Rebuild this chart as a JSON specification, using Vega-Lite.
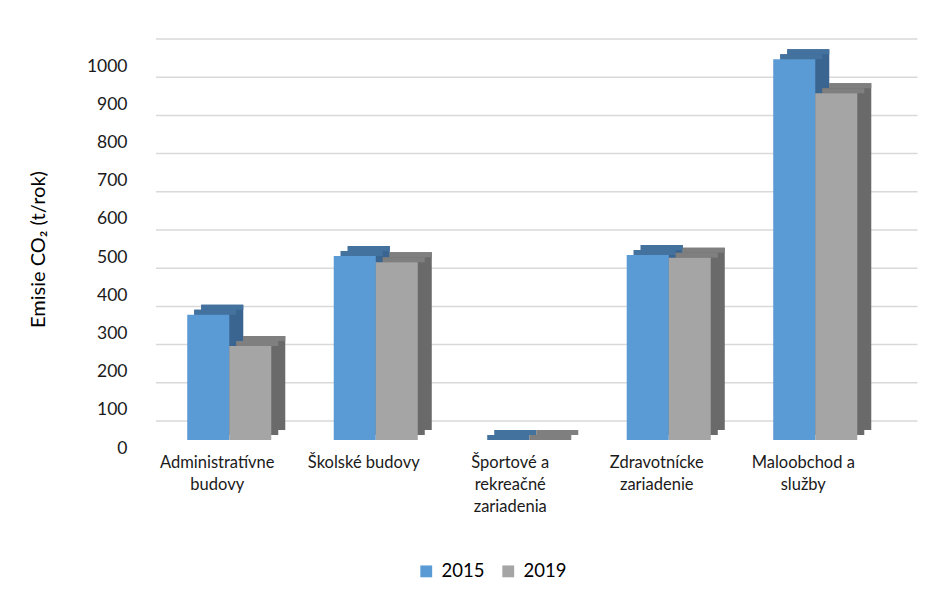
{
  "$schema": "https://vega.github.io/schema/vega-lite/v6.json",
  "width": 732.5,
  "height": 382,
  "autosize": {"type": "none"},
  "padding": {"left": 156, "top": 58, "right": 53.5, "bottom": 151},
  "background": "white",
  "config": {
    "view": {"stroke": null},
    "font": "Lato",
    "axisY": {
      "titleFont": "Lato", "titleFontSize": 20, "titleFontWeight": "normal", "titleColor": "#000000",
      "titlePadding": 38,
      "grid": false, "ticks": false, "domain": false, "format": "d",
      "labelFont": "Lato", "labelFontSize": 17.5, "labelColor": "#1a1a1a",
      "labelPadding": 29, "labelOffset": 8
    },
    "legend": {
      "orient": "none", "direction": "horizontal",
      "legendX": 261, "legendY": 504,
      "symbolType": "square", "symbolSize": 140, "symbolStrokeWidth": 0,
      "labelFont": "Lato", "labelFontSize": 18.5, "labelColor": "#000000",
      "columnPadding": 14, "labelOffset": 6
    }
  },
  "datasets": {
    "bars": [
      {"cat": "Administratívne budovy", "year": "2015", "value": 328},
      {"cat": "Administratívne budovy", "year": "2019", "value": 246},
      {"cat": "Školské budovy", "year": "2015", "value": 482},
      {"cat": "Školské budovy", "year": "2019", "value": 465},
      {"cat": "Športové a rekreačné zariadenia", "year": "2015", "value": 0},
      {"cat": "Športové a rekreačné zariadenia", "year": "2019", "value": 0},
      {"cat": "Zdravotnícke zariadenie", "year": "2015", "value": 484},
      {"cat": "Zdravotnícke zariadenie", "year": "2019", "value": 477},
      {"cat": "Maloobchod a služby", "year": "2015", "value": 997},
      {"cat": "Maloobchod a služby", "year": "2019", "value": 908}
    ],
    "grid": [
      {"value": 0}, {"value": 100}, {"value": 200}, {"value": 300}, {"value": 400},
      {"value": 500}, {"value": 600}, {"value": 700}, {"value": 800}, {"value": 900}, {"value": 1000}
    ]
  },
  "layer": [
    {
      "data": {"name": "grid"},
      "mark": {"type": "rule", "color": "#D9D9D9", "strokeWidth": 1.5, "xOffset": 29, "yOffset": -19},
      "encoding": {
        "y": {
          "field": "value", "type": "quantitative",
          "scale": {"domain": [0, 1000], "nice": false, "zero": true},
          "axis": {"title": "Emisie CO₂ (t/rok)", "values": [0, 100, 200, 300, 400, 500, 600, 700, 800, 900, 1000]}
        }
      }
    },
    {
      "data": {"name": "bars"},
      "encoding": {
        "x": {
          "field": "cat", "type": "nominal", "sort": null,
          "scale": {"paddingInner": 0, "paddingOuter": 0},
          "axis": {
            "title": null, "ticks": false, "domain": false, "labelAngle": 0,
            "labelFont": "Lato", "labelFontSize": 16.5, "labelColor": "#1a1a1a",
            "labelPadding": 14, "labelOffset": -12, "labelLineHeight": 22,
            "labelBaseline": "top", "labelOverlap": false, "labelBound": false, "labelLimit": 300,
            "labelExpr": "datum.value == 'Administratívne budovy' ? ['Administratívne', 'budovy'] : datum.value == 'Športové a rekreačné zariadenia' ? ['Športové a', 'rekreačné', 'zariadenia'] : datum.value == 'Zdravotnícke zariadenie' ? ['Zdravotnícke', 'zariadenie'] : datum.value == 'Maloobchod a služby' ? ['Maloobchod a', 'služby'] : datum.value"
          }
        },
        "y": {
          "field": "value", "type": "quantitative",
          "scale": {"domain": [0, 1000], "nice": false, "zero": true},
          "axis": {"title": "Emisie CO₂ (t/rok)", "values": [0, 100, 200, 300, 400, 500, 600, 700, 800, 900, 1000]}
        }
      },
      "layer": [
        {
          "transform": [{"filter": "datum.year == '2015'"}],
          "mark": {"type": "bar", "color": "#3A6591", "width": {"band": 0.287}, "xOffset": -14, "yOffset": -5, "y2Offset": -5},
          "encoding": {"y2": {"datum": 0}}
        },
        {
          "transform": [{"filter": "datum.year == '2015'"}],
          "mark": {"type": "bar", "color": "#3A6591", "width": {"band": 0.287}, "xOffset": -7, "yOffset": -10, "y2Offset": -10},
          "encoding": {"y2": {"datum": 0}}
        },
        {
          "transform": [{"filter": "datum.year == '2015'"}],
          "mark": {"type": "bar", "color": "#44729F", "width": {"band": 0.287}, "xOffset": -14, "yOffset": -5, "y2Offset": 0},
          "encoding": {"y2": {"field": "value"}}
        },
        {
          "transform": [{"filter": "datum.year == '2015'"}],
          "mark": {"type": "bar", "color": "#44729F", "width": {"band": 0.287}, "xOffset": -7, "yOffset": -10, "y2Offset": -5},
          "encoding": {"y2": {"field": "value"}}
        },
        {
          "transform": [{"filter": "datum.year == '2015'"}],
          "mark": {"type": "bar", "width": {"band": 0.287}, "xOffset": -21},
          "encoding": {
            "y2": {"datum": 0},
            "color": {"field": "year", "type": "nominal", "scale": {"domain": ["2015", "2019"], "range": ["#5B9BD5", "#A5A5A5"]}, "legend": {"title": null}}
          }
        },
        {
          "transform": [{"filter": "datum.year == '2019'"}],
          "mark": {"type": "bar", "color": "#6A6A6A", "width": {"band": 0.287}, "xOffset": 28, "yOffset": -5, "y2Offset": -5},
          "encoding": {"y2": {"datum": 0}}
        },
        {
          "transform": [{"filter": "datum.year == '2019'"}],
          "mark": {"type": "bar", "color": "#6A6A6A", "width": {"band": 0.287}, "xOffset": 35, "yOffset": -10, "y2Offset": -10},
          "encoding": {"y2": {"datum": 0}}
        },
        {
          "transform": [{"filter": "datum.year == '2019'"}],
          "mark": {"type": "bar", "color": "#7F7F7F", "width": {"band": 0.287}, "xOffset": 28, "yOffset": -5, "y2Offset": 0},
          "encoding": {"y2": {"field": "value"}}
        },
        {
          "transform": [{"filter": "datum.year == '2019'"}],
          "mark": {"type": "bar", "color": "#7F7F7F", "width": {"band": 0.287}, "xOffset": 35, "yOffset": -10, "y2Offset": -5},
          "encoding": {"y2": {"field": "value"}}
        },
        {
          "transform": [{"filter": "datum.year == '2019'"}],
          "mark": {"type": "bar", "width": {"band": 0.287}, "xOffset": 21},
          "encoding": {
            "y2": {"datum": 0},
            "color": {"field": "year", "type": "nominal", "scale": {"domain": ["2015", "2019"], "range": ["#5B9BD5", "#A5A5A5"]}, "legend": {"title": null}}
          }
        }
      ]
    }
  ]
}
